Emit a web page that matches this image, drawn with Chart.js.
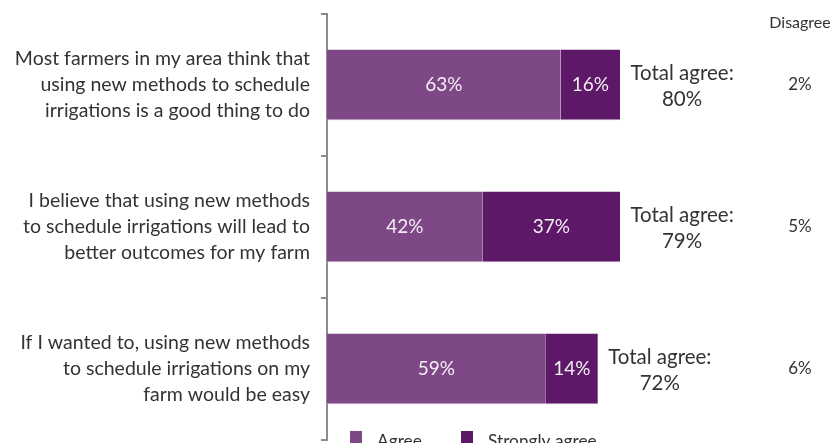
<!DOCTYPE html>
<html>
<head>
<meta charset="utf-8">
<script src="https://cdn.jsdelivr.net/npm/chart.js@4/dist/chart.umd.min.js"></script>
<style>
  body { margin: 0; background: #fff; }
  #wrap { width: 835px; height: 443px; }
</style>
</head>
<body>
<div id="wrap"><canvas id="barras" width="835" height="443"></canvas></div>
<script>
// categorias e valores
var categorias = [
    ['Most farmers in my area think that', 'using new methods to schedule', 'irrigations is a good thing to do'],
    ['I believe that using new methods', 'to schedule irrigations will lead to', 'better outcomes for my farm'],
    ['If I wanted to, using new methods', 'to schedule irrigations on my', 'farm would be easy']
];
var concordo = [63, 42, 59];
var concordoTotalmente = [16, 37, 14];
var totalConcordo = [80, 79, 72];
var discordo = [2, 5, 6];

var fonte = 'Lato, "Noto Sans", sans-serif';
var corTexto = '#333333';

// rótulos dentro das barras, total e coluna "Disagree"
const rotulos = {
    id: 'rotulos',
    afterDatasetsDraw(chart) {
        const ctx = chart.ctx;
        ctx.save();
        ctx.font = '19px ' + fonte;
        ctx.textAlign = 'center';
        ctx.textBaseline = 'middle';
        chart.data.datasets.forEach(function (ds, i) {
            chart.getDatasetMeta(i).data.forEach(function (bar, j) {
                ctx.fillStyle = '#f4eef5';
                ctx.fillText(ds.data[j] + '%', (bar.base + bar.x) / 2, bar.y);
            });
        });
        const meta = chart.getDatasetMeta(1);
        meta.data.forEach(function (bar, j) {
            ctx.fillStyle = corTexto;
            ctx.font = '20.5px ' + fonte;
            ctx.fillText('Total agree:', bar.x + 62, bar.y - 12);
            ctx.fillText(totalConcordo[j] + '%', bar.x + 62, bar.y + 14);
            ctx.font = '17px ' + fonte;
            ctx.fillText(discordo[j] + '%', 800, bar.y);
        });
        ctx.font = '16px ' + fonte;
        ctx.fillText('Disagree', 800, 23);

        // legenda
        ctx.textAlign = 'left';
        ctx.font = '17.3px ' + fonte;
        var posX = [350, 461];
        chart.data.datasets.forEach(function (ds, i) {
            ctx.fillStyle = ds.backgroundColor;
            ctx.fillRect(posX[i], 431, 12, 12);
            ctx.fillStyle = corTexto;
            ctx.fillText(ds.label, posX[i] + 27, 441);
        });
        ctx.restore();
    }
};

const config = {
    type: 'bar',
    data: {
        labels: categorias,
        datasets: [{
            label: 'Agree',
            data: concordo,
            backgroundColor: '#7e4886',
            borderColor: '#e9dcea',
            borderWidth: { bottom: 1 },
            barPercentage: 0.5,
            categoryPercentage: 1
        }, {
            label: 'Strongly agree',
            data: concordoTotalmente,
            backgroundColor: '#5d1867',
            borderColor: '#e9dcea',
            borderWidth: { bottom: 1 },
            barPercentage: 0.5,
            categoryPercentage: 1
        }]
    },
    options: {
        indexAxis: 'y',
        responsive: false,
        animation: false,
        layout: { padding: { top: 14, bottom: 3, right: 137 } },
        plugins: {
            legend: { display: false },
            tooltip: { enabled: false }
        },
        scales: {
            x: { stacked: true, display: false, min: 0, max: 100 },
            y: {
                stacked: true,
                offset: true,
                afterFit: function (scale) {
                    scale.width = 327;
                    scale.paddingTop = 0;
                    scale.paddingBottom = 0;
                },
                border: { color: '#8c8c8c', width: 2 },
                grid: {
                    offset: true,
                    drawOnChartArea: false,
                    color: '#8c8c8c',
                    lineWidth: 2,
                    tickLength: 6
                },
                ticks: {
                    color: corTexto,
                    padding: 11,
                    font: { family: fonte, size: 19.5, lineHeight: 1.33 }
                }
            }
        }
    },
    plugins: [rotulos]
};

const grafico = new Chart(document.getElementById('barras'), config);
</script>
</body>
</html>
